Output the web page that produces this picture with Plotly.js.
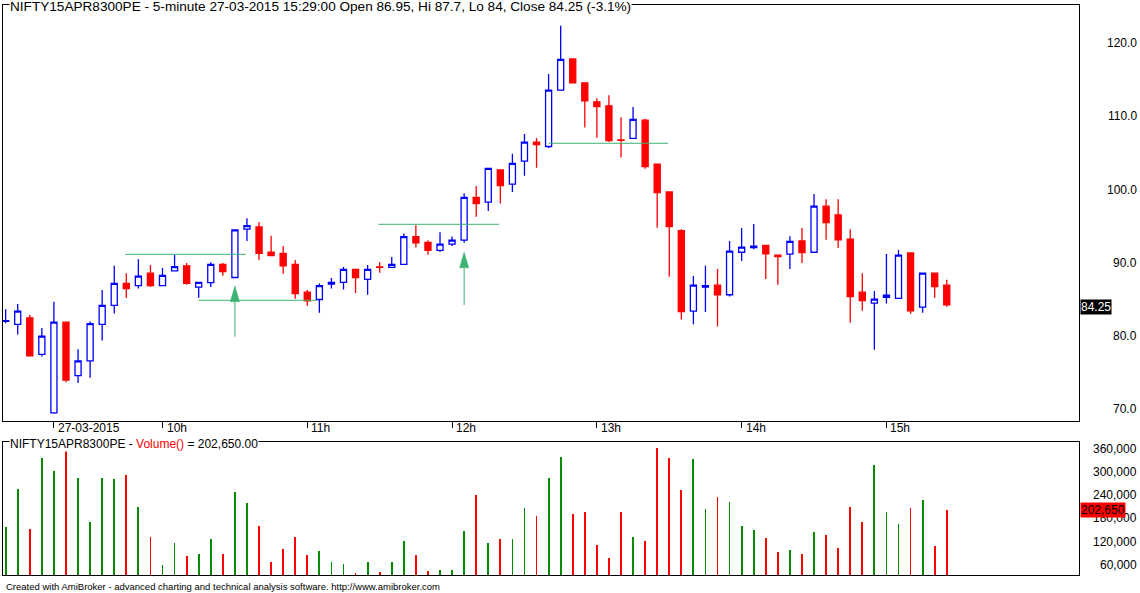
<!DOCTYPE html>
<html>
<head>
<meta charset="utf-8">
<script src="https://cdn.plot.ly/plotly-3.0.1.min.js"></script>
<style>
html,body{margin:0;padding:0;background:#fff;}
#chart{width:1140px;height:593px;}
</style>
</head>
<body>
<div id="chart"></div>
<script>
// ---- categories: 5-minute bar times ----
const times = [
"26-03 15:10","26-03 15:15","26-03 15:20","26-03 15:25",
"27-03 09:15","27-03 09:20","27-03 09:25","27-03 09:30","27-03 09:35","27-03 09:40","27-03 09:45","27-03 09:50","27-03 09:55",
"27-03 10:00","27-03 10:05","27-03 10:10","27-03 10:15","27-03 10:20","27-03 10:25","27-03 10:30","27-03 10:35","27-03 10:40","27-03 10:45","27-03 10:50","27-03 10:55",
"27-03 11:00","27-03 11:05","27-03 11:10","27-03 11:15","27-03 11:20","27-03 11:25","27-03 11:30","27-03 11:35","27-03 11:40","27-03 11:45","27-03 11:50","27-03 11:55",
"27-03 12:00","27-03 12:05","27-03 12:10","27-03 12:15","27-03 12:20","27-03 12:25","27-03 12:30","27-03 12:35","27-03 12:40","27-03 12:45","27-03 12:50","27-03 12:55",
"27-03 13:00","27-03 13:05","27-03 13:10","27-03 13:15","27-03 13:20","27-03 13:25","27-03 13:30","27-03 13:35","27-03 13:40","27-03 13:45","27-03 13:50","27-03 13:55",
"27-03 14:00","27-03 14:05","27-03 14:10","27-03 14:15","27-03 14:20","27-03 14:25","27-03 14:30","27-03 14:35","27-03 14:40","27-03 14:45","27-03 14:50","27-03 14:55",
"27-03 15:00","27-03 15:05","27-03 15:10","27-03 15:15","27-03 15:20","27-03 15:25"
];

// ---- OHLC series ----
const openP = [82.0,81.6,82.5,77.5,69.5,81.9,74.6,76.6,81.6,84.2,
87.2,86.9,88.6,86.9,88.9,89.6,86.7,87.3,89.8,88.0,
94.6,94.9,91.45,91.3,89.8,86.0,85.0,87.1,87.35,89.1,
87.75,89.45,89.4,89.8,93.6,92.8,91.7,92.55,93.1,98.95,
98.3,102.7,100.75,103.9,106.5,105.9,113.6,117.85,114.6,112.0,
111.45,106.8,107.0,109.5,103.5,99.7,94.4,83.4,86.7,86.95,
85.65,91.45,92.1,92.4,91.05,91.2,93.0,91.45,97.75,96.55,
93.25,86.0,84.5,85.3,85.15,91.35,83.95,88.6,86.95];
const highP = [83.65,84.4,82.9,81.1,84.7,81.9,78.2,82.0,86.3,89.6,
88.6,90.5,89.7,89.3,91.1,90.0,87.35,90.1,90.0,94.6,
96.1,95.6,93.7,92.3,90.4,86.3,87.2,87.95,89.45,89.1,
89.7,90.1,90.8,94.0,95.15,93.1,94.2,93.6,99.5,100.5,
102.9,102.8,104.9,107.6,107.05,115.8,122.4,117.95,114.6,112.5,
112.9,109.9,111.3,109.7,103.5,99.7,94.6,88.2,89.6,89.15,
93.0,94.75,95.3,92.4,91.05,93.65,94.75,99.4,98.7,98.7,
94.6,88.6,86.15,91.2,91.75,91.35,88.6,88.6,87.7];
const lowP = [81.75,80.2,77.3,77.2,69.4,73.7,73.6,74.3,79.4,83.1,
85.2,86.5,86.7,86.9,88.85,87.0,85.25,86.7,88.25,88.0,
93.0,90.4,91.0,88.5,85.1,84.15,83.2,86.5,86.35,85.9,
85.65,88.65,89.4,89.8,92.1,91.1,91.5,92.3,92.75,96.3,
97.1,98.1,99.7,101.9,103.0,105.7,113.6,114.6,108.5,107.1,
106.5,104.4,107.0,102.85,94.8,88.1,82.25,81.6,83.3,81.3,
85.4,90.25,91.85,87.8,87.0,89.15,90.0,91.45,93.15,92.05,
81.85,83.45,78.15,84.45,85.15,83.05,83.2,85.25,84.0];
const closeP = [82.1,83.4,77.3,80.0,81.9,74.0,76.6,81.7,84.2,87.2,
86.5,88.2,86.9,88.3,89.5,87.2,87.35,89.8,88.8,94.5,
95.1,91.3,91.0,89.6,85.8,84.8,86.9,87.35,89.1,88.0,
89.1,89.4,89.8,93.6,92.75,91.7,92.55,93.1,98.95,98.1,
102.9,100.55,103.6,106.5,106.15,113.6,117.8,114.6,112.15,111.35,
106.7,106.75,109.6,103.15,99.6,94.95,83.35,86.95,86.9,85.65,
91.6,92.15,92.3,91.25,90.85,92.95,91.4,97.75,95.5,93.15,
85.4,84.85,85.05,85.6,91.05,83.45,88.6,86.75,84.25];

// ---- volume series ----
const volume = [158000,256000,153000,337000,303000,355000,285000,171000,285000,282000,
293000,210000,132000,60000,117000,83000,88000,127000,88000,249000,
220000,161000,68000,101000,132000,86000,96000,68000,63000,39000,
68000,42000,68000,122000,86000,44500,47000,47000,148000,241000,
117000,127000,127000,207000,187000,285000,339000,192000,197000,112000,
78000,197000,132000,122000,363000,337000,254000,334000,205000,236000,
223000,161000,150500,130000,93600,98800,88400,145000,137600,104000,
210000,171000,318600,197000,166000,207400,228000,109000,202650];

// ---- axis tick labels ----
const dateTickCats = ["27-03 09:15","27-03 10:00","27-03 11:00","27-03 12:00","27-03 13:00","27-03 14:00","27-03 15:00"];
const dateTickText = ["27-03-2015","10h","11h","12h","13h","14h","15h"];
const priceTickVals = [70,80,90,100,110,120];
const priceTickText = ["70.0","80.0","90.0","100.0","110.0","120.0"];
const volTickVals = [60000,120000,180000,240000,300000,360000];
const volTickText = ["60,000","120,000","180,000","240,000","300,000","360,000"];

// ---- drawn levels (horizontal lines) and signal arrows ----
const levelPrice = [91.17, 84.89, 95.27, 106.34];
const levelStart = [9.9, 16.0, 30.9, 45.0];
const levelEnd   = [19.9, 25.8, 40.9, 54.9];
const signalTime = ["27-03 10:30","27-03 12:05"];
const signalTip  = [86.84, 91.45];
const signalBase = [84.70, 89.34];
const signalTail = [79.92, 84.25];

const symbol = "NIFTY15APR8300PE";
const lastPct = "-3.1%";

// ---- styles ----
const FONT = "Liberation Sans, Arial, sans-serif";
const upColor = "#0000ff", downColor = "#ff0000";
const volUp = "#008c00", volDown = "#ff0000";
const levelColor = "#3cb371";

const last = closeP.length - 1;
const volColors = closeP.map((c, i) => c >= openP[i] ? volUp : volDown);

const candle = {
  type: "candlestick", x: times, open: openP, high: highP, low: lowP, close: closeP,
  xaxis: "x", yaxis: "y",
  increasing: {line: {color: upColor, width: 1.3}, fillcolor: "#ffffff"},
  decreasing: {line: {color: downColor, width: 1.3}, fillcolor: downColor},
  whiskerwidth: 0, hoverinfo: "skip", showlegend: false
};
const volBars = {
  type: "bar", x: times, y: volume, xaxis: "x2", yaxis: "y2",
  marker: {color: volColors, line: {width: 0}}, width: 0.15,
  hoverinfo: "skip", showlegend: false
};

const shapes = [];
levelPrice.forEach((p, i) => {
  shapes.push({type: "line", xref: "x", yref: "y", x0: levelStart[i], x1: levelEnd[i], y0: p, y1: p,
    line: {color: levelColor, width: 1}});
});
const arrowHalf = 0.38;
signalTime.forEach((t, i) => {
  const xi = times.indexOf(t);
  shapes.push({type: "line", xref: "x", yref: "y", x0: xi, x1: xi, y0: signalTail[i], y1: signalBase[i],
    line: {color: levelColor, width: 1}});
  shapes.push({type: "path", xref: "x", yref: "y",
    path: `M ${xi - arrowHalf},${signalBase[i]} L ${xi},${signalTip[i]} L ${xi + arrowHalf},${signalBase[i]} Z`,
    fillcolor: levelColor, line: {color: levelColor, width: 0.5}});
});

const annotations = [];
// titles
annotations.push({xref: "paper", yref: "paper", x: 0.0056, y: 0.9965, xanchor: "left", yanchor: "middle",
  text: `${symbol} - 5-minute 27-03-2015 15:29:00 Open ${openP[last]}, Hi ${highP[last]}, Lo ${lowP[last]}, Close ${closeP[last]} (${lastPct})`,
  showarrow: false, bgcolor: "#ffffff", borderpad: 0, font: {family: FONT, size: 13.6, color: "#000"}});
annotations.push({xref: "paper", yref: "paper", x: 0.0056, y: 0.2298, xanchor: "left", yanchor: "middle",
  text: `${symbol} - <span style="color:#ff0000">Volume()</span> = ${volume[last].toLocaleString("en-US")}.00`,
  showarrow: false, bgcolor: "#ffffff", borderpad: 0, font: {family: FONT, size: 12, color: "#000"}});
annotations.push({xref: "paper", yref: "paper", x: 0.001, y: -0.0205, xanchor: "left", yanchor: "middle",
  text: "Created with AmiBroker - advanced charting and technical analysis software. http://www.amibroker.com",
  showarrow: false, font: {family: FONT, size: 9.5, color: "#000"}});
// x tick labels
dateTickCats.forEach((c, i) => {
  annotations.push({xref: "x", yref: "paper", x: c, y: 0.2574, xanchor: "left", yanchor: "middle", xshift: 2,
    text: dateTickText[i], showarrow: false, font: {family: FONT, size: 12, color: "#000"}});
});
// y tick labels
priceTickVals.forEach((v, i) => {
  annotations.push({xref: "paper", yref: "y", x: 1.0557, y: v, xanchor: "right", yanchor: "middle",
    text: priceTickText[i], showarrow: false, font: {family: FONT, size: 12, color: "#000"}});
});
volTickVals.forEach((v, i) => {
  annotations.push({xref: "paper", yref: "y2", x: 1.0557, y: v, xanchor: "right", yanchor: "middle",
    text: volTickText[i], showarrow: false, font: {family: FONT, size: 12, color: "#000"}});
});
// last value markers
annotations.push({xref: "paper", yref: "y", x: 1.0009, y: closeP[last], xanchor: "left", yanchor: "middle", yshift: -2,
  text: String(closeP[last]), showarrow: false, bgcolor: "#000000", borderpad: 0,
  font: {family: FONT, size: 12, color: "#ffffff"}});
annotations.push({xref: "paper", yref: "y2", x: 1.0009, y: volume[last], xanchor: "left", yanchor: "middle",
  text: volume[last].toLocaleString("en-US"), showarrow: false, bgcolor: "#ff0000", borderpad: 0,
  font: {family: FONT, size: 12, color: "#000000"}});

const axisBase = {showgrid: false, zeroline: false, showline: true, mirror: true,
  linecolor: "#000", linewidth: 1, fixedrange: true};

const layout = {
  width: 1140, height: 593,
  margin: {l: 3, r: 61, t: 5, b: 18, pad: 0},
  paper_bgcolor: "#ffffff", plot_bgcolor: "#ffffff",
  showlegend: false, boxgap: 0.28, bargap: 0,
  font: {family: FONT, size: 12, color: "#000"},
  xaxis: Object.assign({}, axisBase, {type: "category", anchor: "y", range: [-0.22, 88.96],
    tickmode: "array", tickvals: dateTickCats, showticklabels: false,
    ticks: "outside", ticklen: 6, tickwidth: 1, tickcolor: "#000",
    rangeslider: {visible: false}}),
  xaxis2: Object.assign({}, axisBase, {type: "category", anchor: "y2", range: [-0.22, 88.96],
    showticklabels: false, ticks: ""}),
  yaxis: Object.assign({}, axisBase, {domain: [0.27018, 1], anchor: "x", side: "right",
    range: [68.40, 125.23], showticklabels: false, ticks: ""}),
  yaxis2: Object.assign({}, axisBase, {domain: [0, 0.23333], anchor: "x2", side: "right",
    range: [33400, 377300], showticklabels: false, ticks: ""}),
  shapes: shapes,
  annotations: annotations
};

Plotly.newPlot("chart", [candle, volBars], layout, {staticPlot: true, displayModeBar: false});
</script>
</body>
</html>
